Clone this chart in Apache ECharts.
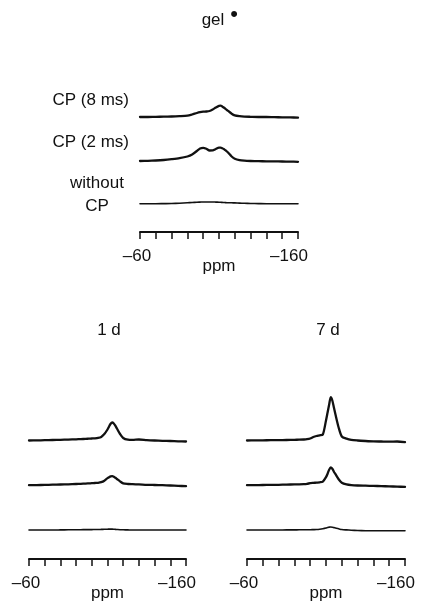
<!DOCTYPE html>
<html>
<head>
<meta charset="utf-8">
<script src="https://cdn.jsdelivr.net/npm/echarts@6/dist/echarts.min.js"></script>
<style>
  html, body { margin: 0; padding: 0; background: #fff; }
  #chart { width: 423px; height: 602px; }
</style>
</head>
<body>
<div id="chart"></div>
<script>
// Chemical shift positions (ppm) shared by every spectrum
const ppm = [-60, -65, -70, -75, -80, -85, -90, -93, -96, -98, -100, -102, -104, -106, -108,
  -110, -111, -112, -113, -114, -115, -116, -118, -120, -123, -126, -130, -135, -140, -145,
  -150, -155, -160];

// Gel spectra (relative intensity)
const gelCp8 = [0, 0, 0.2, 0.3, 0.5, 0.8, 1.3, 2.5, 4, 4.8, 5.3, 5.5, 6, 7.5, 9.5,
  11.2, 11.3, 10.6, 9.5, 8.2, 7, 5.8, 3.3, 1.6, 0.8, 0.4, 0.2, 0, 0, -0.2,
  -0.3, -0.4, -0.6];
const gelCp2 = [0, 0.2, 0.5, 1, 1.8, 2.8, 4.5, 6.5, 10, 12.5, 13.2, 12.2, 10.5, 10.6, 12,
  13.3, 13.3, 12.8, 12, 10.8, 9.5, 8, 4.5, 2.2, 0.8, 0.3, 0, -0.2, -0.3, -0.4,
  -0.5, -0.6, -0.8];
const gelNoCp = [0, 0, 0, 0.1, 0.2, 0.5, 0.9, 1.2, 1.5, 1.6, 1.7, 1.7, 1.7, 1.7, 1.6,
  1.5, 1.4, 1.3, 1.2, 1.1, 1, 1, 0.9, 0.8, 0.6, 0.4, 0.2, 0.1, 0, 0,
  0, 0, 0];

// 1 d spectra
const day1Cp8 = [0, 0.1, 0.3, 0.5, 0.7, 0.9, 1.2, 1.4, 1.6, 1.8, 2, 2.2, 2.6, 3.6, 6.5,
  11, 14, 16.8, 18, 17, 14.8, 12, 6.5, 2.5, 0.8, 0.6, 1, 0.4, 0, -0.3,
  -0.5, -0.8, -1];
const day1Cp2 = [0, 0.1, 0.3, 0.5, 0.7, 0.9, 1.2, 1.4, 1.6, 1.8, 2, 2.2, 2.4, 3, 4.5,
  7, 8, 8.8, 9, 8.5, 7.4, 6.2, 3.8, 1.8, 1.2, 1, 0.8, 0.4, 0.2, 0,
  -0.3, -0.6, -1];
const day1NoCp = [0, 0, 0, 0, 0.1, 0.2, 0.3, 0.3, 0.4, 0.4, 0.4, 0.5, 0.5, 0.6, 0.7,
  0.8, 0.9, 0.9, 0.9, 0.8, 0.6, 0.5, 0.3, 0.2, 0.1, 0, 0, 0, 0, 0,
  0, 0, 0];

// 7 d spectra
const day7Cp8 = [0, 0.1, 0.2, 0.3, 0.4, 0.5, 0.7, 0.8, 1, 1.3, 2, 3.5, 4.5, 5.2, 6,
  20, 28, 36, 43.3, 40, 33, 26, 13, 4, 1.8, 0.6, 0, -0.5, -0.9, -1,
  -1.1, -1, -1.6];
const day7Cp2 = [0, 0.1, 0.2, 0.3, 0.4, 0.6, 0.8, 0.9, 1.1, 1.4, 2, 2.3, 2.6, 2.9, 3.6,
  8, 11.5, 15.5, 17.7, 16.5, 13.5, 11, 6, 2.5, 0.8, 0.1, -0.3, -0.5, -0.7, -0.9,
  -1.2, -1.4, -1.7];
const day7NoCp = [0, 0, 0, 0, 0, 0.1, 0.1, 0.2, 0.2, 0.3, 0.3, 0.4, 0.5, 0.8, 1.3,
  2, 2.5, 2.9, 3, 2.8, 2.4, 2, 1.2, 0.5, 0.1, -0.2, -0.5, -0.7, -0.8, -0.8,
  -0.8, -0.8, -0.8];

// Vertical stacking offsets of the three traces in each panel (CP 8 ms, CP 2 ms, without CP)
const gelOffsets = [115, 71, 28.3];
const dayOffsets = [118.5, 73.8, 29];

// Axis tick labels
const axisRange = [-60, -160];
const axisName = 'ppm';
const panelTitles = ['gel', '1 d', '7 d'];
const traceLabels = ['CP (8 ms)', 'CP (2 ms)', 'without', 'CP'];

const FONT = '"Liberation Sans", Arial, Helvetica, sans-serif';
const INK = '#111';

const chart = echarts.init(document.getElementById('chart'), null, { renderer: 'canvas' });

const grids = [
  { left: 140, width: 158, top: 92, height: 140, outerBoundsMode: 'none', containLabel: false },
  { left: 29, width: 157, top: 389, height: 170, outerBoundsMode: 'none', containLabel: false },
  { left: 247, width: 158, top: 389, height: 170, outerBoundsMode: 'none', containLabel: false }
];

const labelText = { fontFamily: FONT, fontSize: 17, color: INK };

function xAxisFor(i) {
  return {
    gridIndex: i,
    type: 'value',
    min: Math.min(axisRange[0], axisRange[1]),
    max: Math.max(axisRange[0], axisRange[1]),
    interval: 10,
    inverse: true,
    name: axisName,
    nameLocation: 'middle',
    nameGap: 26,
    nameMoveOverlap: false,
    nameTextStyle: { fontFamily: FONT, fontSize: 17, color: INK },
    axisLine: { show: true, onZero: false, lineStyle: { color: INK, width: 2 } },
    axisTick: { show: true, length: 7, inside: false, lineStyle: { color: INK, width: 1.5 } },
    splitLine: { show: false },
    axisLabel: {
      show: true,
      margin: 16,
      fontFamily: FONT,
      fontSize: 17,
      color: INK,
      showMinLabel: true,
      showMaxLabel: true,
      rich: {
        lo: Object.assign({ padding: [0, 6, 0, 0] }, labelText),
        hi: Object.assign({ padding: [0, 18, 0, 0] }, labelText)
      },
      formatter: v => {
        if (v === axisRange[0]) return '{lo|\u2013' + Math.abs(v) + '}';
        if (v === axisRange[1]) return '{hi|\u2013' + Math.abs(v) + '}';
        return '';
      }
    }
  };
}

function yAxisFor(i, h) {
  return {
    gridIndex: i, type: 'value', min: 0, max: h, show: false,
    axisLine: { show: false }, axisTick: { show: false }, axisLabel: { show: false },
    splitLine: { show: false }
  };
}

function trace(i, values, offset, width) {
  return {
    type: 'line',
    xAxisIndex: i,
    yAxisIndex: i,
    data: ppm.map((p, k) => [p, offset + values[k]]),
    showSymbol: false,
    symbol: 'none',
    smooth: 0.25,
    lineStyle: { color: INK, width: width, cap: 'round', join: 'round' },
    silent: true,
    animation: false
  };
}

const series = [
  trace(0, gelCp8, gelOffsets[0], 2.3),
  trace(0, gelCp2, gelOffsets[1], 2.3),
  trace(0, gelNoCp, gelOffsets[2], 1.6),
  trace(1, day1Cp8, dayOffsets[0], 2.3),
  trace(1, day1Cp2, dayOffsets[1], 2.3),
  trace(1, day1NoCp, dayOffsets[2], 1.6),
  trace(2, day7Cp8, dayOffsets[0], 2.3),
  trace(2, day7Cp2, dayOffsets[1], 2.3),
  trace(2, day7NoCp, dayOffsets[2], 1.6)
];

function label(text, x, y, align, size) {
  return {
    type: 'text',
    x: x, y: y, silent: true,
    style: {
      text: text, fill: INK, font: (size || 17) + 'px ' + FONT,
      textAlign: align, textVerticalAlign: 'middle'
    }
  };
}

chart.setOption({
  animation: false,
  backgroundColor: '#fff',
  grid: grids,
  xAxis: [xAxisFor(0), xAxisFor(1), xAxisFor(2)],
  yAxis: [yAxisFor(0, 140), yAxisFor(1, 170), yAxisFor(2, 170)],
  series: series,
  graphic: [
    label(panelTitles[0], 213, 20, 'center'),
    label('\u2022', 234, 15, 'center', 22),
    label(panelTitles[1], 109, 330, 'center'),
    label(panelTitles[2], 328, 330, 'center'),
    label(traceLabels[0], 129, 100, 'right'),
    label(traceLabels[1], 129, 142, 'right'),
    label(traceLabels[2], 97, 183, 'center'),
    label(traceLabels[3], 97, 206, 'center')
  ]
});
</script>
</body>
</html>
